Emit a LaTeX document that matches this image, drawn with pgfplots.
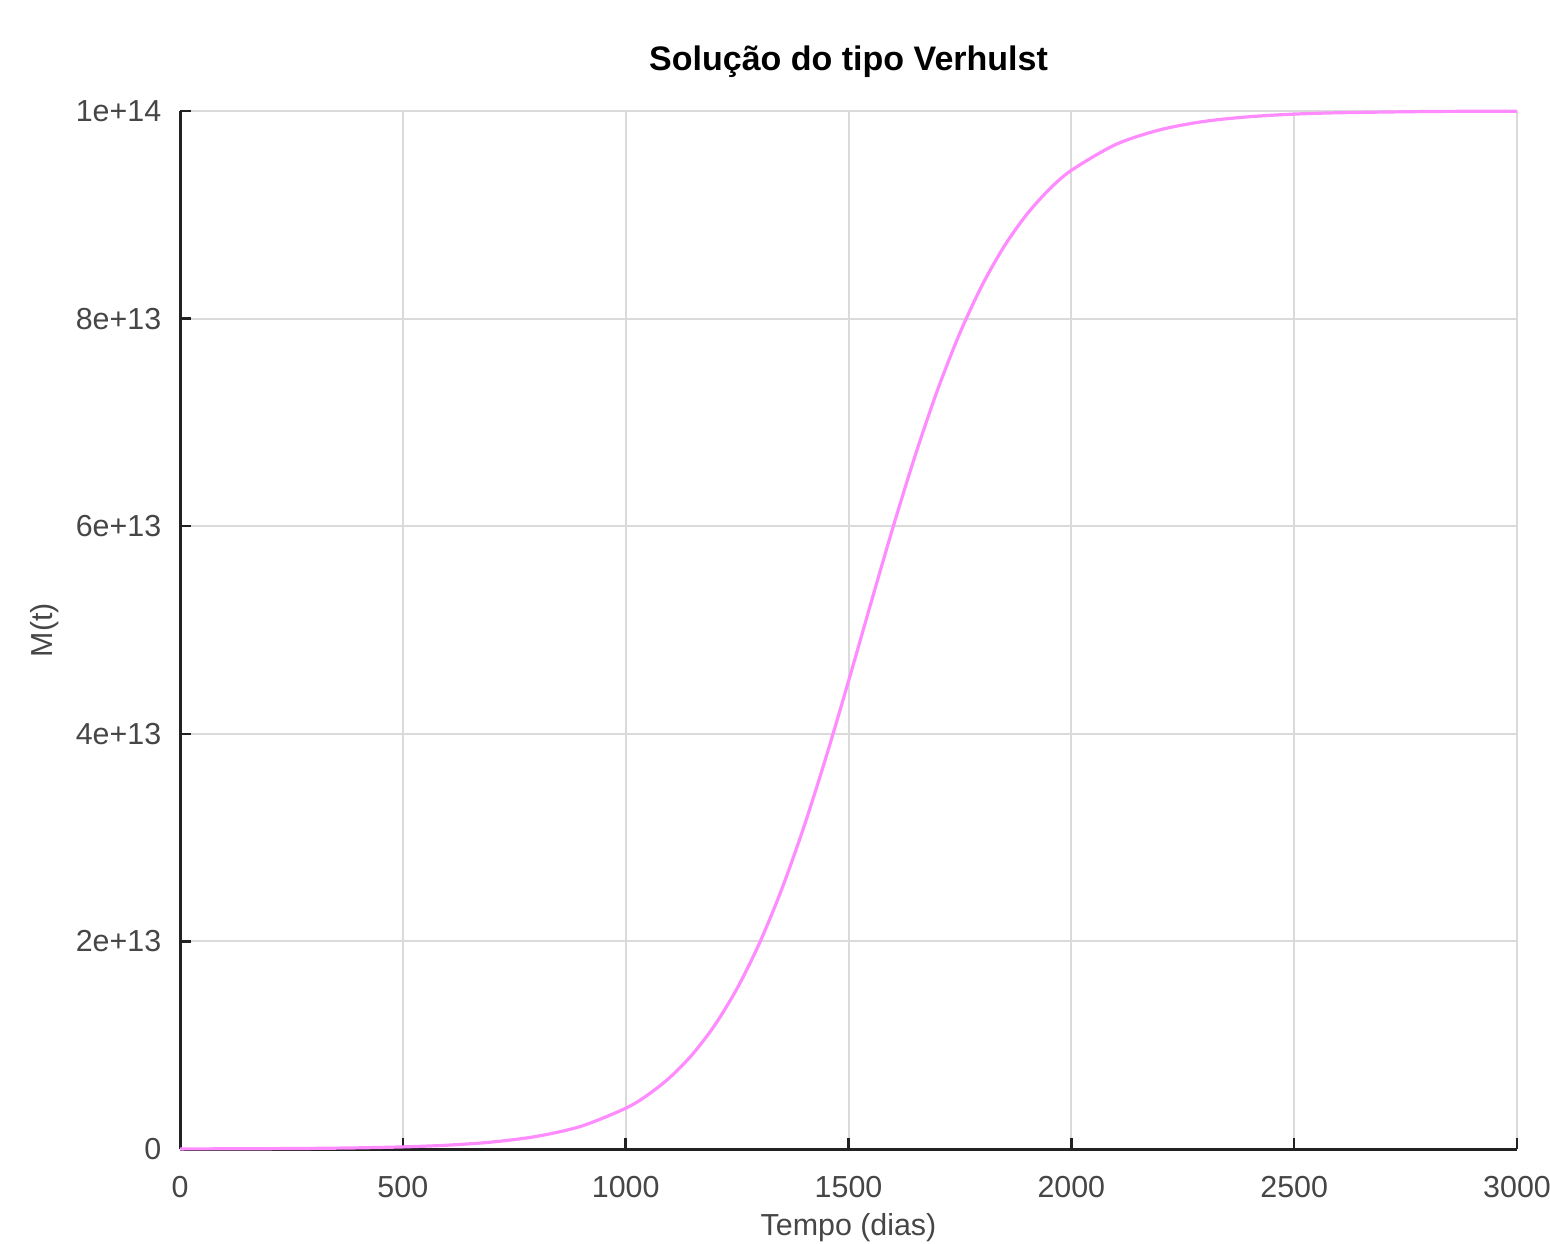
\documentclass[border=0pt]{standalone}
\usepackage{pgfplots}
\pgfplotsset{compat=1.18}
\usepackage{fontspec}
\setmainfont{Liberation Sans}

\definecolor{curve}{RGB}{255,140,255}
\definecolor{gridc}{RGB}{218,218,218}
\definecolor{axisc}{RGB}{34,34,34}
\definecolor{labc}{RGB}{70,70,70}

\begin{document}
\begin{tikzpicture}
% 1 px of the reference = 0.25pt
\useasboundingbox (-45pt,-23.5pt) rectangle (342.5pt,287.25pt);

\begin{axis}[
    at={(0,0)}, anchor=south west,
    scale only axis,
    width=334.25pt, height=259.5pt,
    xmin=0, xmax=3000, ymin=0, ymax=1e14,
    scaled y ticks=false, scaled x ticks=false,
    axis x line*=bottom, axis y line*=left,
    axis line style={axisc, line width=0.75pt},
    xtick={0,500,...,3000},
    xticklabels={0,500,1000,1500,2000,2500,3000},
    ytick={0,2e13,4e13,6e13,8e13,1e14},
    yticklabels={0,2e+13,4e+13,6e+13,8e+13,1e+14},
    tick align=inside,
    major tick length=2.75pt,
    tick style={axisc, line width=0.6pt},
    grid=major,
    major grid style={gridc, line width=0.5pt},
    font=\fontsize{7.6}{9}\selectfont,
    xticklabel style={labc, anchor=base, inner sep=0pt, yshift=-12pt},
    yticklabel style={labc, anchor=east, inner sep=0pt, xshift=-4.5pt},
    title={\textbf{Solução do tipo Verhulst}},
    title style={at={(axis description cs:0.5,1)}, anchor=base, inner sep=0pt,
                 yshift=4pt, font=\fontsize{8.5}{10}\selectfont},
    xlabel={Tempo (dias)},
    xlabel style={at={(axis description cs:0.5,0)}, anchor=base, inner sep=0pt,
                  yshift=-21.5pt, labc},
    ylabel={M(t)},
    ylabel style={at={(axis description cs:-0.0957,0.5)}, anchor=base, inner sep=0pt, labc},
    clip=false,
]

\addplot[curve, line width=0.8pt, smooth] coordinates {
    (0,1.01e10)
    (100,1.84e10)
    (200,3.36e10)
    (300,6.12e10)
    (400,1.114e11)
    (500,2.029e11)
    (600,3.69e11)
    (700,6.71e11)
    (800,1.215e12)
    (900,2.193e12)
    (1000,3.925e12)
    (1050,5.225e12)
    (1100,6.925e12)
    (1150,9.129e12)
    (1200,1.194e13)
    (1250,1.547e13)
    (1300,1.981e13)
    (1350,2.501e13)
    (1400,3.105e13)
    (1450,3.781e13)
    (1500,4.507e13)
    (1550,5.255e13)
    (1600,5.992e13)
    (1650,6.686e13)
    (1700,7.315e13)
    (1750,7.862e13)
    (1800,8.323e13)
    (1850,8.701e13)
    (1900,9.004e13)
    (1950,9.243e13)
    (2000,9.428e13)
    (2100,9.678e13)
    (2200,9.820e13)
    (2300,9.901e13)
    (2400,9.945e13)
    (2500,9.970e13)
    (2600,9.983e13)
    (2800,9.995e13)
    (3000,9.9985e13)
};

\end{axis}
\end{tikzpicture}
\end{document}
